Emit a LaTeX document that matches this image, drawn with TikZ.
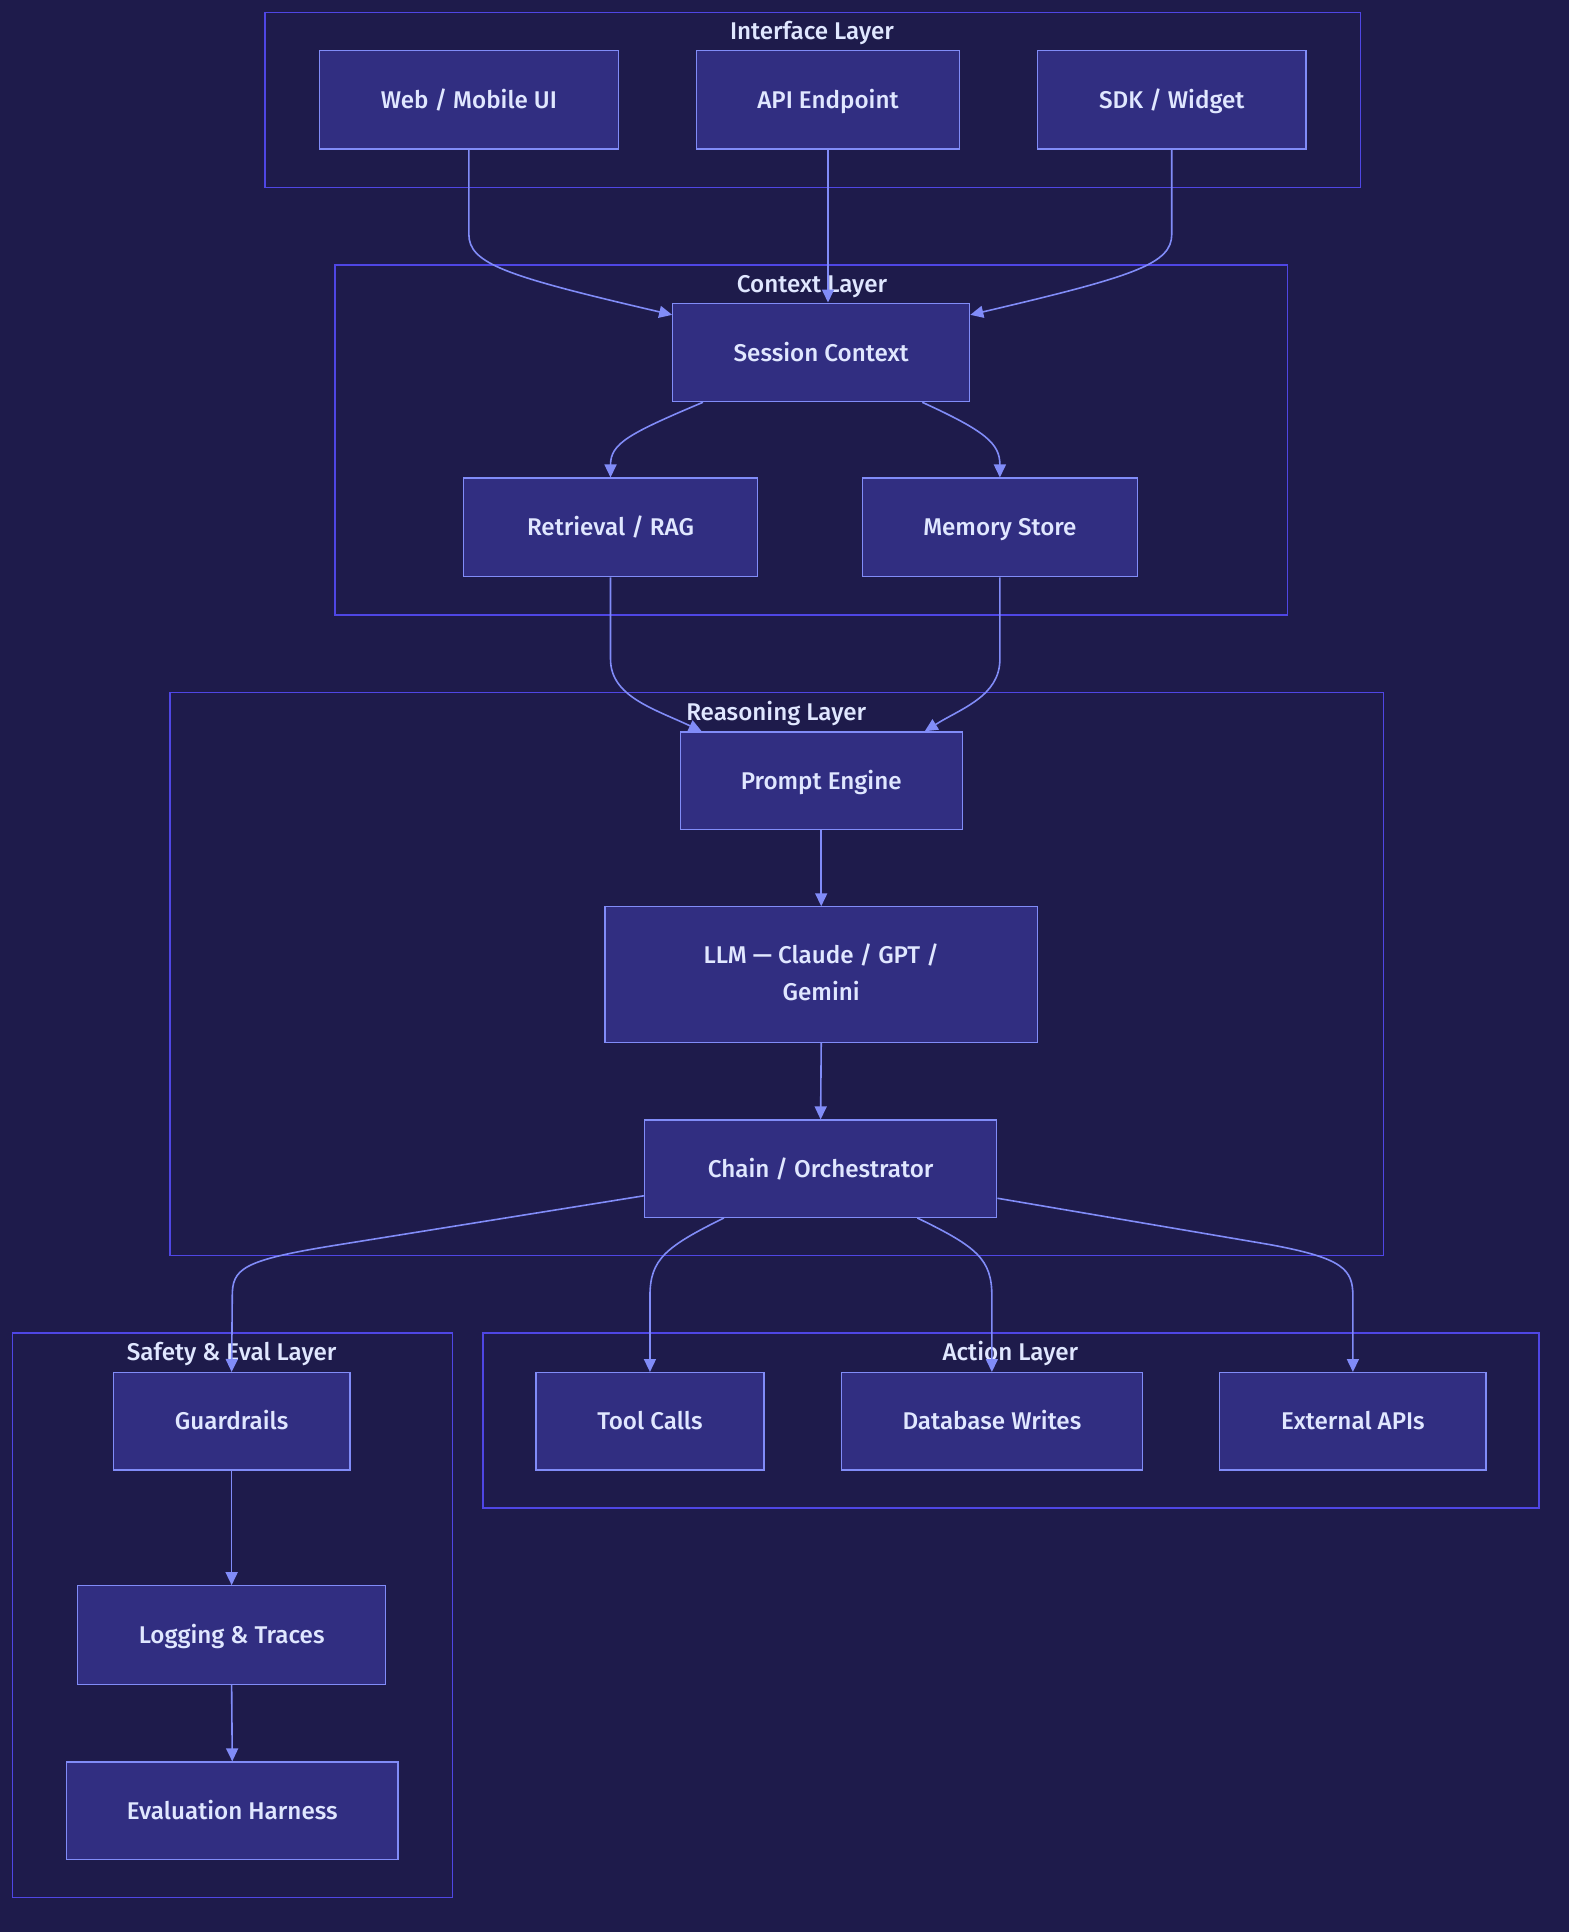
\documentclass[tikz,border=0pt]{standalone}
\usepackage{fontspec}
\setmainfont{Fira Sans}[UprightFont=*-Medium]
\usetikzlibrary{arrows.meta,calc}
\definecolor{bgc}{HTML}{1E1B4B}
\definecolor{nodefill}{HTML}{312E81}
\definecolor{nodeline}{HTML}{818CF8}
\definecolor{clusterline}{HTML}{4F46E5}
\definecolor{edgec}{HTML}{818CF8}
\definecolor{txt}{HTML}{E0E7FF}
\def\dpx{0.61585pt}
\tikzset{
  box/.style={draw=nodeline, fill=nodefill, line width=0.6pt, inner sep=0pt,
    text=txt, font=\fontsize{12.1}{18.5}\selectfont, align=center},
  oneline/.style={text height=8.6pt, text depth=0pt},
  cluster/.style={draw=clusterline, line width=0.7pt},
  ctitle/.style={text=txt, font=\fontsize{12.1}{15}\selectfont, inner sep=0pt, anchor=base},
  edge/.style={draw=edgec, line width=0.8pt, -{Triangle[length=6.5pt,width=6pt]}}
}
\newcommand\mybox[7]{% name, x1, x2, y1, y2, text, extra
  \node[box, #7, minimum width={(#3-#2)*\dpx}, minimum height={(#5-#4)*\dpx}] (#1) at ({(#2+#3)/2},{(#4+#5)/2}) {#6};}
\begin{document}
\begin{tikzpicture}[x=0.61585pt,y=-0.61585pt]
\fill[bgc] (0,0) rectangle (1273,1568);
\useasboundingbox (0,0) rectangle (1273,1568);
% clusters
\draw[cluster] (215,10) rectangle (1104,152);
\node[ctitle] (tInterface) at (659,32) {Interface Layer};
\draw[cluster] (272,215) rectangle (1045,499);
\node[ctitle] (tContext) at (659,237) {Context Layer};
\draw[cluster] (138,562) rectangle (1123,1019);
\node[ctitle] (tReason) at (630,585) {Reasoning Layer};
\draw[cluster] (10,1082) rectangle (367,1540);
\node[ctitle] (tSafety) at (188,1104) {Safety \& Eval Layer};
\draw[cluster] (392,1082) rectangle (1249,1224);
\node[ctitle] (tAction) at (820,1104) {Action Layer};
% nodes
\mybox{web}{259}{502}{41}{121}{Web / Mobile UI}{oneline}
\mybox{api}{565}{779}{41}{121}{API Endpoint}{oneline}
\mybox{sdk}{842}{1060}{41}{121}{SDK / Widget}{oneline}
\mybox{sess}{546}{787}{246}{326}{Session Context}{oneline}
\mybox{rag}{376}{615}{388}{468}{Retrieval / RAG}{oneline}
\mybox{mem}{700}{923}{388}{468}{Memory Store}{oneline}
\mybox{prompt}{552}{781}{594}{673}{Prompt Engine}{oneline}
\node[box, minimum width={351*\dpx}, minimum height={110*\dpx}] (llm) at (666.5,791) {\raisebox{2pt}{LLM — Claude / GPT /}\\\raisebox{2pt}{Gemini}};
\mybox{chain}{523}{809}{909}{988}{Chain / Orchestrator}{oneline}
\mybox{guard}{92}{284}{1114}{1193}{Guardrails}{oneline}
\mybox{log}{63}{313}{1287}{1367}{Logging \& Traces}{oneline}
\mybox{eval}{54}{323}{1430}{1509}{Evaluation Harness}{oneline}
\mybox{tool}{435}{620}{1114}{1193}{Tool Calls}{oneline}
\mybox{db}{683}{927}{1114}{1193}{Database Writes}{oneline}
\mybox{ext}{990}{1206}{1114}{1193}{External APIs}{oneline}
% edges
\draw[edge] (web.south) -- (380.5,190) .. controls (380.5,214) and (410,224) .. ($(sess.north west)+(0,10)$);
\draw[edge] (api.south) -- (api.south |- sess.north);
\draw[edge] (sdk.south) -- (951,190) .. controls (951,214) and (922,224) .. ($(sess.north east)+(0,10)$);
\draw[edge] ($(sess.south west)+(25,0)$) .. controls (510,352) and (495.5,360) .. (rag.north);
\draw[edge] ($(sess.south east)+(-39,0)$) .. controls (800,350) and (811.5,360) .. (mem.north);
\draw[edge] (rag.south) -- (495.5,535) .. controls (495.5,565) and (530,575) .. ($(prompt.north west)+(18,0)$);
\draw[edge] (mem.south) -- (811.5,535) .. controls (811.5,565) and (780,575) .. ($(prompt.north east)+(-31,0)$);
\draw[edge] (prompt.south) -- (llm.north);
\draw[edge] (llm.south) -- (chain.north);
\draw[edge] ($(chain.south west)+(0,-18)$) -- (270,1011) .. controls (196,1023) and (188.5,1030) .. (188.5,1052) -- (guard.north);
\draw[edge] ($(chain.south west)+(65,0)$) .. controls (540,1012) and (527.5,1022) .. (527.5,1052) -- (tool.north);
\draw[edge] ($(chain.south east)+(-65,0)$) .. controls (793,1012) and (805,1022) .. (805,1052) -- (db.north);
\draw[edge] ($(chain.south east)+(0,-16)$) -- (1030,1010) .. controls (1090,1021) and (1098,1030) .. (1098,1052) -- (ext.north);
\draw[edge] (guard.south) -- (log.north);
\draw[edge] (log.south) -- (eval.north);
\end{tikzpicture}
\end{document}
